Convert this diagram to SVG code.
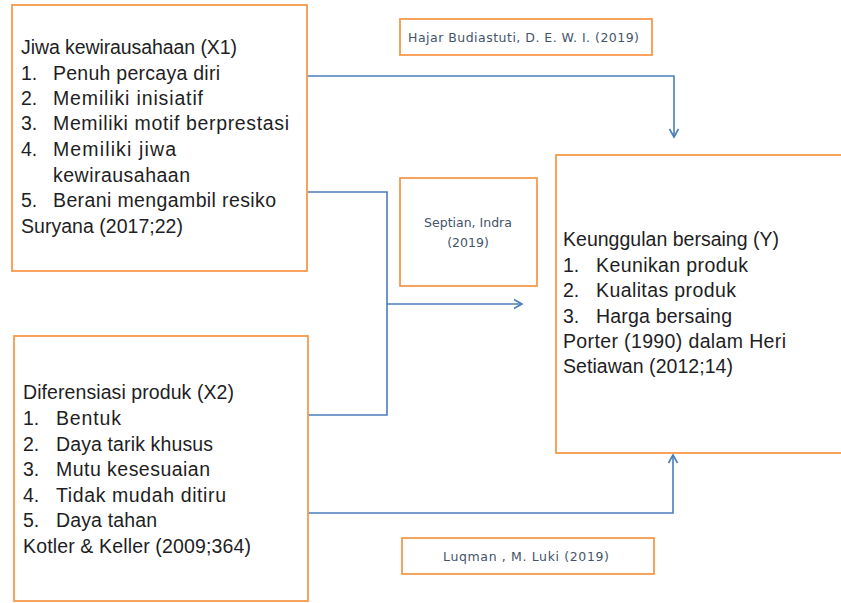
<svg xmlns="http://www.w3.org/2000/svg" width="841" height="603" viewBox="0 0 841 603">
<style>
.box{fill:#fff;stroke:#F79A4C;stroke-width:1.8}
.t{font-family:"Liberation Sans",Arial,sans-serif;font-size:19.5px;fill:#1e1e24}
.s{font-family:"DejaVu Sans","Liberation Sans",sans-serif;font-size:12.5px;fill:#44546A}
.c{fill:none;stroke:#4A7EBB;stroke-width:1.6}
</style>
<defs>
<marker id="ah" markerWidth="12" markerHeight="12" refX="10" refY="6" orient="auto" markerUnits="userSpaceOnUse">
<path d="M2,1.5 L10,6 L2,10.5" fill="none" stroke="#4A7EBB" stroke-width="1.6"/>
</marker>
</defs>
<rect width="841" height="603" fill="#fff"/>
<g id="connectors">
<polyline class="c" points="307,76 674,76 674,137" marker-end="url(#ah)"/>
<polyline class="c" points="307,192 387,192 387,415 308,415"/>
<polyline class="c" points="387,304 522,304" marker-end="url(#ah)"/>
<polyline class="c" points="308,513 673,513 673,455" marker-end="url(#ah)"/>
</g>
<g id="x1">
<rect class="box" x="12" y="5" width="295" height="266"/>
<text class="t" x="21" y="54" textLength="216" lengthAdjust="spacing">Jiwa kewirausahaan (X1)</text>
<text class="t" x="21" y="80">1.</text><text class="t" x="53" y="80" textLength="167" lengthAdjust="spacing">Penuh percaya diri</text>
<text class="t" x="21" y="105">2.</text><text class="t" x="53" y="105" textLength="150" lengthAdjust="spacing">Memiliki inisiatif</text>
<text class="t" x="21" y="130">3.</text><text class="t" x="53" y="130" textLength="236" lengthAdjust="spacing">Memiliki motif berprestasi</text>
<text class="t" x="21" y="156">4.</text><text class="t" x="53" y="156" textLength="123" lengthAdjust="spacing">Memiliki jiwa</text>
<text class="t" x="53" y="182" textLength="137" lengthAdjust="spacing">kewirausahaan</text>
<text class="t" x="21" y="207">5.</text><text class="t" x="53" y="207" textLength="223" lengthAdjust="spacing">Berani mengambil resiko</text>
<text class="t" x="21" y="233" textLength="162" lengthAdjust="spacing">Suryana (2017;22)</text>
</g>
<g id="x2">
<rect class="box" x="14" y="336" width="294" height="265"/>
<text class="t" x="23" y="399" textLength="211" lengthAdjust="spacing">Diferensiasi produk (X2)</text>
<text class="t" x="23" y="425">1.</text><text class="t" x="56" y="425" textLength="65" lengthAdjust="spacing">Bentuk</text>
<text class="t" x="23" y="451">2.</text><text class="t" x="56" y="451" textLength="157" lengthAdjust="spacing">Daya tarik khusus</text>
<text class="t" x="23" y="476">3.</text><text class="t" x="56" y="476" textLength="154" lengthAdjust="spacing">Mutu kesesuaian</text>
<text class="t" x="23" y="502">4.</text><text class="t" x="56" y="502" textLength="170" lengthAdjust="spacing">Tidak mudah ditiru</text>
<text class="t" x="23" y="527">5.</text><text class="t" x="56" y="527" textLength="101" lengthAdjust="spacing">Daya tahan</text>
<text class="t" x="23" y="553" textLength="228" lengthAdjust="spacing">Kotler &amp; Keller (2009;364)</text>
</g>
<g id="y">
<rect class="box" x="556" y="155" width="300" height="298"/>
<text class="t" x="563" y="246" textLength="216" lengthAdjust="spacing">Keunggulan bersaing (Y)</text>
<text class="t" x="563" y="272">1.</text><text class="t" x="596" y="272" textLength="152" lengthAdjust="spacing">Keunikan produk</text>
<text class="t" x="563" y="297">2.</text><text class="t" x="596" y="297" textLength="140" lengthAdjust="spacing">Kualitas produk</text>
<text class="t" x="563" y="323">3.</text><text class="t" x="596" y="323" textLength="136" lengthAdjust="spacing">Harga bersaing</text>
<text class="t" x="563" y="348" textLength="223" lengthAdjust="spacing">Porter (1990) dalam Heri</text>
<text class="t" x="563" y="373" textLength="170" lengthAdjust="spacing">Setiawan (2012;14)</text>
</g>
<g id="hajar">
<rect class="box" x="400" y="19" width="252" height="36"/>
<text class="s" x="408" y="42" textLength="231" lengthAdjust="spacing">Hajar Budiastuti, D. E. W. I. (2019)</text>
</g>
<g id="septian">
<rect class="box" x="400" y="178" width="137" height="108"/>
<text class="s" x="468" y="227" text-anchor="middle">Septian, Indra</text>
<text class="s" x="468" y="247" text-anchor="middle">(2019)</text>
</g>
<g id="luqman">
<rect class="box" x="402" y="538" width="252" height="36"/>
<text class="s" x="443" y="561" textLength="166" lengthAdjust="spacing">Luqman , M. Luki (2019)</text>
</g>
</svg>
